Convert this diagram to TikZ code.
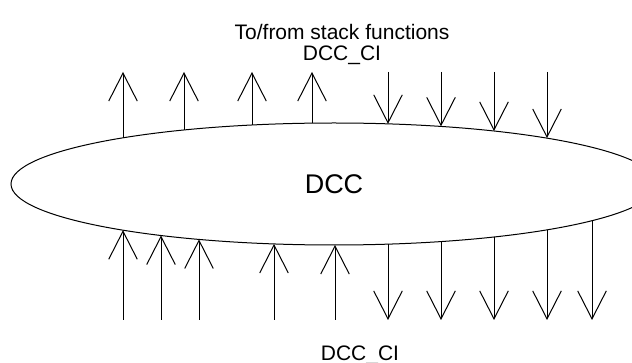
\documentclass[tikz,border=0pt]{standalone}
\usepackage{fontspec}
\setmainfont{Liberation Sans}
\usetikzlibrary{arrows.meta,shapes.geometric}
\begin{document}
\begin{tikzpicture}[x=0.5pt,y=-0.5pt,line width=0.5pt,
		>={Straight Barb[length=14pt,width=14.3pt]},
		lbl/.style={font=\fontsize{10.5pt}{10.5pt}\selectfont,anchor=base,inner sep=0pt}]
		\useasboundingbox (0,0) rectangle (632,363);
		\clip (0,0) rectangle (632,363);
		\node (dcc) [ellipse,draw,minimum width=323pt,minimum height=61pt,inner sep=0pt,
			font=\fontsize{13.5pt}{13.5pt}\selectfont] at (334,184) {DCC};
		\node (stack) [lbl] at (342,40) {To/from stack functions};
		\node (citop) [lbl] at (342,61) {DCC\_CI};
		\node (cibot) [lbl] at (360,360) {DCC\_CI};
		\coordinate (e1) at (123,137.8);
		\coordinate (e2) at (184,130.0);
		\coordinate (e3) at (252,125.0);
		\coordinate (e4) at (312,123.1);
		\coordinate (e5) at (388,123.9);
		\coordinate (e6) at (441,126.4);
		\coordinate (e7) at (494,131.0);
		\coordinate (e8) at (547,138.1);
		\coordinate (t1) at (123,72);
		\coordinate (t2) at (184,72);
		\coordinate (t3) at (252,72);
		\coordinate (t4) at (312,72);
		\coordinate (t5) at (388,72);
		\coordinate (t6) at (441,72);
		\coordinate (t7) at (494,72);
		\coordinate (t8) at (547,72);
		\coordinate (s1) at (123,230.2);
		\coordinate (s2) at (161,235.5);
		\coordinate (s3) at (199,239.4);
		\coordinate (s4) at (274,243.9);
		\coordinate (s5) at (335,245.0);
		\coordinate (s6) at (388,244.1);
		\coordinate (s7) at (441,241.6);
		\coordinate (s8) at (494,237.0);
		\coordinate (s9) at (547,229.9);
		\coordinate (s10) at (592,220.7);
		\coordinate (b1) at (123,320);
		\coordinate (b2) at (161,320);
		\coordinate (b3) at (199,320);
		\coordinate (b4) at (274,320);
		\coordinate (b5) at (335,320);
		\coordinate (b6) at (388,320);
		\coordinate (b7) at (441,320);
		\coordinate (b8) at (494,320);
		\coordinate (b9) at (547,320);
		\coordinate (b10) at (592,320);
		\draw [->] (e1) -- (t1);
		\draw [->] (e2) -- (t2);
		\draw [->] (e3) -- (t3);
		\draw [->] (e4) -- (t4);
		\draw [->] (t5) -- (e5);
		\draw [->] (t6) -- (e6);
		\draw [->] (t7) -- (e7);
		\draw [->] (t8) -- (e8);
		\draw [->] (b1) -- (s1);
		\draw [->] (b2) -- (s2);
		\draw [->] (b3) -- (s3);
		\draw [->] (b4) -- (s4);
		\draw [->] (b5) -- (s5);
		\draw [->] (s6) -- (b6);
		\draw [->] (s7) -- (b7);
		\draw [->] (s8) -- (b8);
		\draw [->] (s9) -- (b9);
		\draw [->] (s10) -- (b10);
	\end{tikzpicture}
\end{document}
